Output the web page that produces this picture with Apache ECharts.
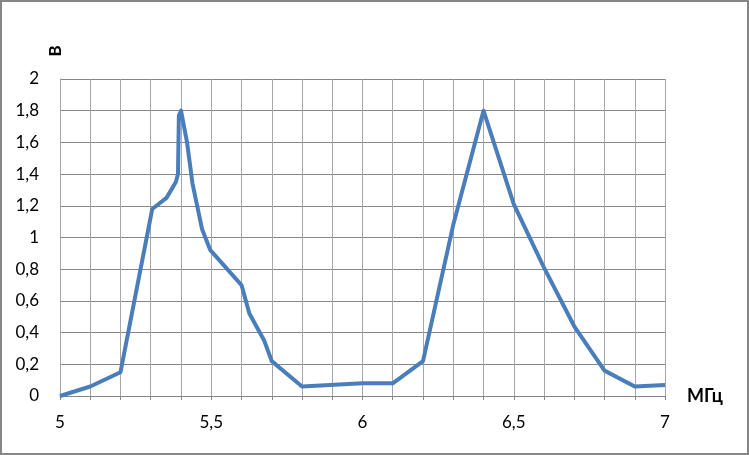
<!DOCTYPE html>
<html><head><meta charset="utf-8">
<script src="https://cdn.jsdelivr.net/npm/echarts@6/dist/echarts.min.js"></script>
<style>html,body{margin:0;padding:0;background:#fff}#c{width:749px;height:455px}</style>
</head><body><div id="c"></div>
<script>
// Frequency, MHz
var freq = [5.0, 5.1, 5.2, 5.305, 5.352, 5.383, 5.39, 5.393, 5.4, 5.42, 5.438, 5.47, 5.497, 5.6, 5.626, 5.675, 5.7, 5.8, 6.0, 6.1, 6.2, 6.3, 6.4, 6.5, 6.6, 6.7, 6.8, 6.9, 7.0];
// Voltage, V
var volts = [0.0, 0.06, 0.15, 1.18, 1.25, 1.35, 1.40, 1.77, 1.80, 1.60, 1.34, 1.05, 0.92, 0.70, 0.52, 0.35, 0.22, 0.06, 0.08, 0.08, 0.22, 1.08, 1.80, 1.21, 0.81, 0.44, 0.16, 0.06, 0.07];
var xName = 'МГц';
var yName = 'В';

var pts = freq.map(function (f, i) { return [f, volts[i]]; });
var fmt = function (v) { return String(+v.toFixed(2)).replace('.', ','); };
var font = 'Lato, "Open Sans", sans-serif';

var chart = echarts.init(document.getElementById('c'), null, {renderer: 'canvas'});
chart.setOption({
  animation: false,
  graphic: [
    {type: 'rect', shape: {x: 1, y: 1, width: 747, height: 453}, style: {fill: 'none', stroke: '#868686', lineWidth: 2}, silent: true},
    {type: 'text', x: 55.5, y: 51, rotation: Math.PI / 2, style: {text: yName, font: 'bold 17px ' + font, fill: '#000', align: 'center', verticalAlign: 'middle'}, silent: true}
  ],
  grid: {left: 60, right: 84, top: 79, bottom: 59},
  xAxis: {
    type: 'value', min: 5, max: 7, interval: 0.1,
    name: xName, nameLocation: 'end', nameGap: 22,
    nameTextStyle: {fontFamily: font, fontSize: 18, fontWeight: 'bold', color: '#000', verticalAlign: 'middle'},
    axisLine: {lineStyle: {color: '#868686', width: 1}},
    axisTick: {show: true, length: 4, lineStyle: {color: '#868686'}},
    axisLabel: {
      fontFamily: font, fontSize: 17, color: '#000', margin: 18,
      formatter: function (v) { var r = Math.round(v * 10); return r % 5 === 0 ? fmt(r / 10) : ''; }
    },
    splitLine: {show: true, lineStyle: {color: '#a6a6a6', width: 1}}
  },
  yAxis: {
    type: 'value', min: 0, max: 2, interval: 0.2,
    axisLine: {show: true, lineStyle: {color: '#a6a6a6', width: 1}},
    axisTick: {show: false},
    axisLabel: {fontFamily: font, fontSize: 17, color: '#000', margin: 21, formatter: fmt},
    splitLine: {show: true, lineStyle: {color: '#868686', width: 1}}
  },
  series: [{
    type: 'line', data: pts, showSymbol: false, symbol: 'none',
    lineStyle: {color: '#4a7ebb', width: 4, join: 'round'}
  }]
});
</script></body></html>
